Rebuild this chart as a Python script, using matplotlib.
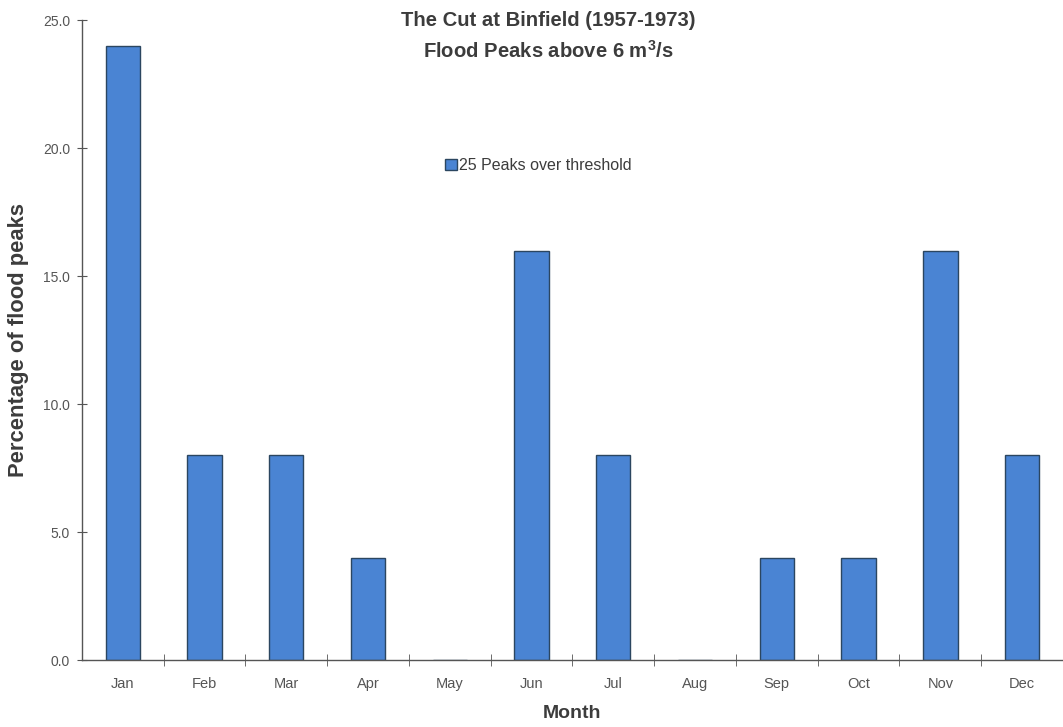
import matplotlib
matplotlib.use("Agg")
import matplotlib.pyplot as plt
import numpy as np

months = ["Jan", "Feb", "Mar", "Apr", "May", "Jun",
          "Jul", "Aug", "Sep", "Oct", "Nov", "Dec"]
pct_peaks = [24.0, 8.0, 8.0, 4.0, 0.0, 16.0, 8.0, 0.0, 4.0, 4.0, 16.0, 8.0]
series_label = "25 Peaks over threshold"

plt.rcParams["font.family"] = ["Liberation Sans", "DejaVu Sans"]
txt = "#3c3c3c"
tick_txt = "#555555"

fig = plt.figure(figsize=(10.63, 7.27), dpi=100)
ax = fig.add_axes([0.077, 0.092, 0.923, 0.880])

x = np.arange(len(months))
ax.bar(x, pct_peaks, width=0.42, color="#4a84d3",
       edgecolor="#2b4660", linewidth=1.0, label=series_label)

ax.set_xlim(-0.5, len(months) - 0.5)
ax.set_ylim(0, 25)
yt = np.arange(0, 25.1, 5)
ax.set_yticks(yt)
ax.set_yticklabels([f"{v:.1f}" for v in yt])
ax.set_xticks(x)
ax.set_xticklabels(months)
ax.set_xticks(np.arange(-0.5, len(months), 1.0)[1:], minor=True)

for s in ["top", "right"]:
    ax.spines[s].set_visible(False)
for s in ["left", "bottom"]:
    ax.spines[s].set_color("#555555")
    ax.spines[s].set_linewidth(1.0)

ax.tick_params(axis="x", which="major", length=0, pad=12, labelsize=10.5,
               labelcolor=tick_txt)
ax.tick_params(axis="x", which="minor", length=8, direction="inout", color="#555555")
ax.tick_params(axis="y", length=7, direction="inout", color="#555555",
               labelsize=10, labelcolor=tick_txt, pad=5)

ax.set_ylabel("Percentage of flood peaks", fontsize=15.8, fontweight="bold",
              color=txt, labelpad=10)
ax.set_xlabel("Month", fontsize=14, fontweight="bold", color=txt, labelpad=10)

fig.text(0.516, 0.972, "The Cut at Binfield (1957-1973)", ha="center", va="center",
         fontsize=14.6, fontweight="bold", color=txt)
fig.text(0.516, 0.930, r"Flood Peaks above 6 m$^\mathregular{3}$/s", ha="center",
         va="center", fontsize=14.6, fontweight="bold", color=txt)

ax.legend(loc="center", bbox_to_anchor=(0.465, 0.773), frameon=False,
          fontsize=11.5, handlelength=0.75, handleheight=0.75, handletextpad=0.15,
          labelcolor=txt)

fig.savefig("out.png", dpi=100)
